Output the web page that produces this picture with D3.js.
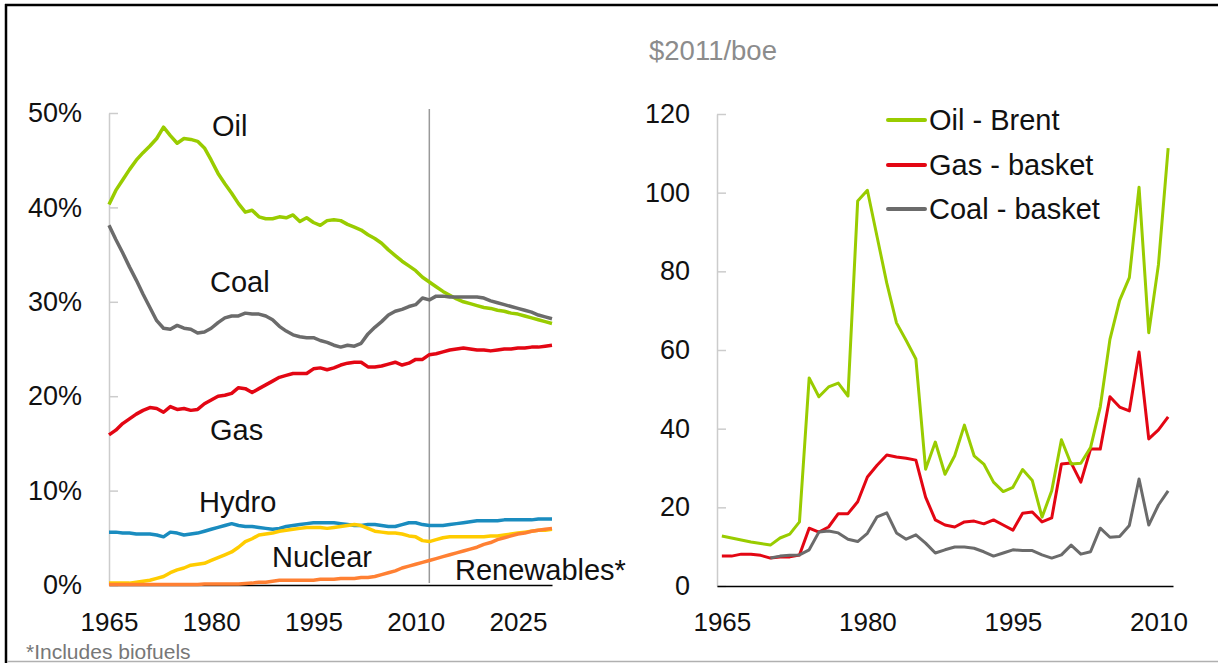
<!DOCTYPE html>
<html>
<head>
<meta charset="utf-8">
<script src="https://cdn.jsdelivr.net/npm/d3@7"></script>
<style>
body{margin:0;background:#fff;}
svg{display:block;font-family:"Liberation Sans",Arial,sans-serif;}
.tick text{fill:#111;}
</style>
</head>
<body>
<svg id="chart" width="1218" height="663"></svg>
<script>
var shareYears = [1965,1966,1967,1968,1969,1970,1971,1972,1973,1974,1975,1976,1977,1978,1979,1980,1981,1982,1983,1984,1985,1986,1987,1988,1989,1990,1991,1992,1993,1994,1995,1996,1997,1998,1999,2000,2001,2002,2003,2004,2005,2006,2007,2008,2009,2010,2011,2012,2013,2014,2015,2016,2017,2018,2019,2020,2021,2022,2023,2024,2025,2026,2027,2028,2029,2030];
var oilShare = [40.3,41.8,42.9,44.0,45.0,45.8,46.5,47.3,48.5,47.6,46.8,47.3,47.2,47.0,46.3,45.0,43.6,42.5,41.5,40.4,39.5,39.7,39.0,38.8,38.8,39.0,38.9,39.2,38.5,38.9,38.4,38.1,38.6,38.7,38.6,38.2,37.9,37.6,37.1,36.7,36.2,35.5,34.9,34.3,33.8,33.3,32.6,32.1,31.6,31.1,30.7,30.3,30.0,29.8,29.6,29.4,29.3,29.1,29.0,28.8,28.7,28.5,28.3,28.1,27.9,27.7];
var coalShare = [38.1,36.6,35.2,33.7,32.3,30.8,29.4,28.0,27.2,27.1,27.5,27.2,27.1,26.7,26.8,27.2,27.8,28.3,28.5,28.5,28.8,28.7,28.7,28.5,28.1,27.4,26.9,26.5,26.3,26.2,26.2,25.9,25.7,25.4,25.2,25.4,25.3,25.6,26.6,27.3,27.9,28.6,29.0,29.2,29.5,29.7,30.4,30.2,30.6,30.6,30.5,30.5,30.5,30.5,30.5,30.4,30.1,29.9,29.7,29.5,29.3,29.1,28.9,28.6,28.4,28.2];
var gasShare = [15.9,16.4,17.1,17.6,18.1,18.5,18.8,18.7,18.3,18.9,18.6,18.7,18.5,18.6,19.2,19.6,20.0,20.1,20.3,20.9,20.8,20.4,20.8,21.2,21.6,22.0,22.2,22.4,22.4,22.4,22.9,23.0,22.8,23.0,23.3,23.5,23.6,23.6,23.1,23.1,23.2,23.4,23.6,23.3,23.5,23.9,23.9,24.4,24.5,24.7,24.9,25.0,25.1,25.0,24.9,24.9,24.8,24.9,25.0,25.0,25.1,25.1,25.2,25.2,25.3,25.4];
var hydroShare = [5.6,5.6,5.5,5.5,5.4,5.4,5.4,5.3,5.1,5.6,5.5,5.3,5.4,5.5,5.7,5.9,6.1,6.3,6.5,6.3,6.2,6.2,6.1,6.0,5.9,6.0,6.2,6.3,6.4,6.5,6.6,6.6,6.6,6.6,6.5,6.4,6.3,6.3,6.4,6.4,6.3,6.2,6.2,6.4,6.6,6.6,6.4,6.3,6.3,6.3,6.4,6.5,6.6,6.7,6.8,6.8,6.8,6.8,6.9,6.9,6.9,6.9,6.9,7.0,7.0,7.0];
var nuclearShare = [0.2,0.2,0.2,0.2,0.3,0.4,0.5,0.7,0.9,1.3,1.6,1.8,2.1,2.2,2.3,2.6,2.9,3.2,3.5,4.0,4.6,4.9,5.3,5.4,5.5,5.7,5.8,5.9,6.0,6.1,6.1,6.1,6.0,6.1,6.2,6.3,6.4,6.3,6.0,5.7,5.6,5.5,5.5,5.4,5.2,5.1,4.7,4.6,4.8,5.0,5.1,5.1,5.1,5.1,5.1,5.1,5.2,5.2,5.3,5.4,5.5,5.6,5.7,5.8,5.8,5.9];
var renewShare = [0.05,0.05,0.05,0.05,0.05,0.05,0.05,0.05,0.05,0.05,0.05,0.05,0.05,0.05,0.1,0.1,0.1,0.1,0.1,0.1,0.15,0.2,0.3,0.3,0.4,0.5,0.5,0.5,0.5,0.5,0.5,0.6,0.6,0.6,0.7,0.7,0.7,0.8,0.8,0.9,1.1,1.3,1.5,1.8,2.0,2.2,2.4,2.6,2.8,3.0,3.2,3.4,3.6,3.8,4.0,4.3,4.5,4.8,5.0,5.2,5.4,5.5,5.7,5.8,5.9,6.0];
var shareNames = ["Oil","Coal","Gas","Hydro","Nuclear","Renewables*"];
var shareTicksY = [0,10,20,30,40,50];
var shareTicksX = [1965,1980,1995,2010,2025];
var outlookStart = 2012;

var priceYears = [1965,1966,1967,1968,1969,1970,1971,1972,1973,1974,1975,1976,1977,1978,1979,1980,1981,1982,1983,1984,1985,1986,1987,1988,1989,1990,1991,1992,1993,1994,1995,1996,1997,1998,1999,2000,2001,2002,2003,2004,2005,2006,2007,2008,2009,2010,2011];
var oilPrice = [12.7,12.2,11.7,11.2,10.8,10.4,12.2,13.2,16.3,52.9,48.1,50.6,51.6,48.3,97.9,100.6,88.8,77.0,66.9,62.4,57.7,29.7,36.6,28.4,33.1,40.9,33.1,31.0,26.4,24.0,25.1,29.6,26.8,17.5,24.2,37.2,31.0,31.2,35.2,45.5,62.7,72.6,78.4,101.4,64.4,81.7,111.3];
var gasPrice = [7.6,7.6,8.1,8.1,7.8,7.1,7.4,7.4,7.9,14.7,13.7,15.0,18.4,18.4,21.4,27.7,30.7,33.3,32.8,32.5,32.0,22.6,16.8,15.5,15.0,16.3,16.5,15.8,16.8,15.5,14.2,18.5,18.8,16.3,17.3,31.0,31.3,26.4,34.8,34.8,48.1,45.5,44.5,59.5,37.4,39.7,43.0];
var coalPrice = [null,null,null,null,null,7.1,7.6,7.8,7.9,9.2,13.7,14.0,13.5,11.9,11.3,13.4,17.6,18.6,13.5,11.9,13.0,10.9,8.4,9.2,9.9,9.9,9.6,8.7,7.6,8.4,9.2,9.0,9.0,7.9,7.1,7.9,10.4,8.1,8.7,14.7,12.4,12.6,15.4,27.2,15.5,20.6,24.2];
var priceNames = ["Oil - Brent","Gas - basket","Coal - basket"];
var priceTicksY = [0,20,40,60,80,100,120];
var priceTicksX = [1965,1980,1995,2010];

var colors = {oil:"#99cc00",coal:"#6b6b6b",gas:"#e30613",hydro:"#1a8cbf",nuclear:"#ffcc00",renew:"#ff8033"};

var svg = d3.select("#chart");

// frame
svg.append("line").attr("x1",6).attr("x2",6).attr("y1",4).attr("y2",663).attr("stroke","#000").attr("stroke-width",2.5);
svg.append("line").attr("x1",5).attr("x2",1218).attr("y1",5).attr("y2",5).attr("stroke","#000").attr("stroke-width",2.5);

// left chart: shares
var x1 = d3.scaleLinear().domain([1965,2030]).range([109,552]);
var y1 = d3.scaleLinear().domain([0,50]).range([585,113]);

var gy1 = svg.append("g").attr("transform","translate(109,0)")
	.call(d3.axisLeft(y1).tickValues(shareTicksY).tickSizeInner(-9).tickSizeOuter(0).tickPadding(27).tickFormat(function(d){return d+"%";}));
gy1.selectAll("path,line").attr("stroke","#cccccc").attr("stroke-width",1.5);
gy1.selectAll("text").attr("font-size",27).attr("font-family",null);

svg.append("line").attr("x1",x1(outlookStart)).attr("x2",x1(outlookStart)).attr("y1",109).attr("y2",583).attr("stroke","#999").attr("stroke-width",1.5);

var gx1 = svg.append("g").attr("transform","translate(0,585)")
	.call(d3.axisBottom(x1).tickValues(shareTicksX).tickSize(0).tickPadding(28).tickFormat(d3.format("d")));
gx1.select("path").attr("stroke","#000").attr("stroke-width",1.5);
gx1.selectAll("text").attr("font-size",26).attr("font-family",null);

var shareSeries = [[oilShare,colors.oil],[coalShare,colors.coal],[gasShare,colors.gas],[hydroShare,colors.hydro],[nuclearShare,colors.nuclear],[renewShare,colors.renew]];
var line1 = d3.line().x(function(d,i){return x1(shareYears[i]);}).y(function(d){return y1(d);});
for(var i=0;i<shareSeries.length;i++){
	svg.append("path").datum(shareSeries[i][0]).attr("d",line1)
		.attr("fill","none").attr("stroke",shareSeries[i][1]).attr("stroke-width",3.5).attr("stroke-linejoin","round");
}

var shareLabels = [[212,136],[210,292],[210,440],[199,512],[272,567],[455,580]];
for(var i=0;i<shareNames.length;i++){
	svg.append("text").attr("x",shareLabels[i][0]).attr("y",shareLabels[i][1])
		.attr("font-size",29).attr("fill","#111").text(shareNames[i]);
}

// right chart: prices
var x2 = d3.scaleLinear().domain([1964.5,2011.5]).range([717,1173]);
var y2 = d3.scaleLinear().domain([0,120]).range([586,114]);

var gy2 = svg.append("g").attr("transform","translate(717,0)")
	.call(d3.axisLeft(y2).tickValues(priceTicksY).tickSizeInner(-9).tickSizeOuter(0).tickPadding(27));
gy2.selectAll("path,line").attr("stroke","#cccccc").attr("stroke-width",1.5);
gy2.selectAll("text").attr("font-size",27).attr("font-family",null);

var gx2 = svg.append("g").attr("transform","translate(0,586)")
	.call(d3.axisBottom(x2).tickValues(priceTicksX).tickSize(0).tickPadding(27).tickFormat(d3.format("d")));
gx2.select("path").attr("stroke","#000").attr("stroke-width",1.5);
gx2.selectAll("text").attr("font-size",26).attr("font-family",null);

svg.append("text").attr("x",649).attr("y",60).attr("font-size",27.5).attr("fill","#8c8c8c").text("$2011/boe");

var priceSeries = [[gasPrice,colors.gas],[oilPrice,colors.oil],[coalPrice,colors.coal]];
var line2 = d3.line().defined(function(d){return d!=null;}).x(function(d,i){return x2(priceYears[i]);}).y(function(d){return y2(d);});
for(var i=0;i<priceSeries.length;i++){
	svg.append("path").datum(priceSeries[i][0]).attr("d",line2)
		.attr("fill","none").attr("stroke",priceSeries[i][1]).attr("stroke-width",3).attr("stroke-linejoin","round");
}

var legendColors = [colors.oil,colors.gas,colors.coal];
var legendY = [120,165,209];
for(var i=0;i<priceNames.length;i++){
	svg.append("line").attr("x1",888).attr("x2",925).attr("y1",legendY[i]).attr("y2",legendY[i])
		.attr("stroke",legendColors[i]).attr("stroke-width",4).attr("stroke-linecap","round");
	svg.append("text").attr("x",929).attr("y",legendY[i]+10).attr("font-size",29).attr("fill","#111").text(priceNames[i]);
}

// footnote above the bottom rule
svg.append("text").attr("x",26).attr("y",659).attr("font-size",21).attr("fill","#777").text("*Includes biofuels");
svg.append("line").attr("x1",7).attr("x2",1218).attr("y1",661.5).attr("y2",661.5).attr("stroke","#b0b0b0").attr("stroke-width",1.5);
</script>
</body>
</html>
